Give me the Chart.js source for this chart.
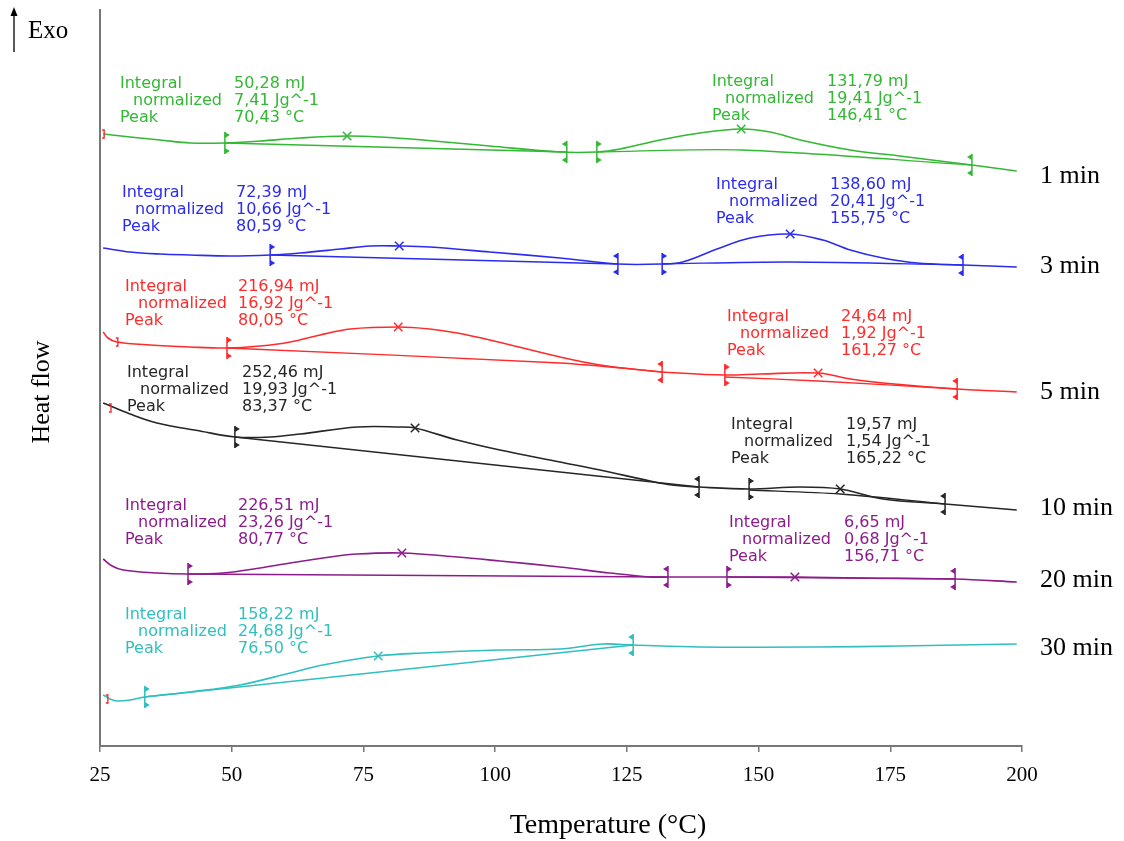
<!DOCTYPE html>
<html><head><meta charset="utf-8">
<script src="https://cdn.jsdelivr.net/npm/chart.js@4.4.1/dist/chart.umd.min.js"></script>
<style>html,body{margin:0;padding:0;background:#fff}#wrap{width:1124px;height:841px;position:relative}</style>
</head><body><div id="wrap"><canvas id="c" width="1124" height="841"></canvas></div>
<script>
// ---------- DATA (Temperature °C, Heat flow a.u.) ----------
const xTicks = [25, 50, 75, 100, 125, 150, 175, 200];
const seriesNames = ['1 min', '3 min', '5 min', '10 min', '20 min', '30 min'];

const curve1 = [[25.6,61.2],[30.7,60.9],[36.4,60.6],[42.1,60.3],[48.7,60.3],[55.4,60.5],[63.0,60.8],[71.9,61.0],[78.1,60.9],[86.3,60.6],[99.0,60.0],[112.3,59.4],[119.3,59.4],[123.7,59.7],[131.3,60.6],[138.9,61.3],[146.7,61.7],[152.2,61.4],[157.9,60.6],[167.4,59.6],[176.8,59.0],[190.5,58.1],[199.0,57.5]];
const base1 = [[[48.7,60.3],[113.6,59.4]], [[119.3,59.4],[146.7,59.6],[190.5,58.1]]];
const peaks1 = [[71.9,61.0],[146.7,61.7]];
const limits1 = [[48.7,60.3],[113.6,59.4],[119.3,59.4],[190.5,58.1]];

const curve3 = [[25.6,49.8],[30.7,49.4],[36.4,49.2],[42.1,49.1],[49.7,49.0],[57.3,49.1],[63.0,49.3],[70.6,49.7],[76.2,50.0],[81.8,50.0],[87.6,49.9],[99.0,49.4],[112.3,48.8],[123.3,48.2],[131.7,48.2],[135.6,48.4],[142.1,49.7],[148.4,50.8],[156.0,51.2],[162.2,50.6],[167.4,49.6],[173.6,48.8],[180.1,48.3],[188.8,48.1],[199.0,47.9]];
const base3 = [[[57.3,49.1],[123.3,48.2]], [[131.7,48.2],[156.0,48.4],[188.8,48.1]]];
const peaks3 = [[81.8,50.0],[156.0,51.2]];
const limits3 = [[57.3,49.1],[123.3,48.2],[131.7,48.2],[188.8,48.1]];

const curve5 = [[25.6,41.4],[26.5,40.8],[28.2,40.4],[34.5,40.1],[42.1,39.9],[49.1,39.8],[55.4,40.0],[61.1,40.4],[66.8,41.1],[72.5,41.7],[81.6,41.9],[87.6,41.7],[92.8,41.3],[99.0,40.6],[112.3,38.9],[119.9,38.1],[129.4,37.5],[131.7,37.4],[143.6,37.1],[150.3,37.2],[161.3,37.3],[167.4,36.7],[173.6,36.3],[187.7,35.7],[199.0,35.4]];
const base5 = [[[49.1,39.8],[112.3,38.3],[131.7,37.4]], [[143.6,36.9],[161.3,36.5],[187.7,35.7]]];
const peaks5 = [[81.6,41.9],[161.3,37.3]];
const limits5 = [[49.1,39.8],[131.7,37.4],[143.6,37.1],[187.7,35.7]];

const curve10 = [[25.6,34.3],[30.7,33.2],[35.8,32.3],[44.0,31.5],[50.6,30.9],[57.3,30.9],[63.0,31.2],[73.8,31.9],[81.9,31.9],[84.8,31.8],[92.8,30.6],[100.9,29.6],[112.3,28.4],[119.9,27.6],[129.4,26.5],[133.5,26.1],[138.7,25.9],[148.2,25.7],[157.9,25.9],[165.5,25.7],[173.6,24.7],[185.4,24.2],[199.0,23.6]];
const base10 = [[[50.6,30.9],[112.3,27.4],[138.7,25.9]], [[148.2,25.6],[165.5,25.2],[185.4,24.2]]];
const peaks10 = [[84.8,31.8],[165.5,25.7]];
const limits10 = [[50.6,30.9],[138.7,25.9],[148.2,25.7],[185.4,24.2]];

const curve20 = [[25.6,18.7],[27.3,18.0],[29.4,17.6],[35.8,17.3],[41.7,17.2],[48.3,17.3],[55.4,17.8],[61.1,18.3],[68.7,18.9],[73.8,19.2],[82.3,19.3],[92.8,18.9],[100.9,18.5],[112.3,17.9],[121.8,17.3],[129.4,16.9],[132.8,16.9],[144.0,16.9],[156.9,16.9],[169.3,16.8],[187.3,16.7],[199.0,16.4]];
const base20 = [[[41.7,17.2],[132.8,16.9]], [[144.0,16.9],[187.3,16.7]]];
const peaks20 = [[82.3,19.3],[156.9,16.9]];
const limits20 = [[41.7,17.2],[132.8,16.9],[144.0,16.9],[187.3,16.7]];

const curve30 = [[25.6,5.1],[26.9,4.7],[28.2,4.5],[30.7,4.6],[33.5,4.9],[42.1,5.4],[51.6,6.1],[61.1,7.3],[67.3,8.1],[77.8,9.0],[86.3,9.3],[100.9,9.6],[112.3,9.7],[120.5,10.2],[126.2,10.1],[138.9,9.9],[161.1,9.9],[176.8,10.0],[199.0,10.2]];
const base30 = [[[33.5,4.9],[126.2,10.1]]];
const peaks30 = [[77.8,9.0]];
const limits30 = [[33.5,4.9],[126.2,10.1]];

// start-of-evaluation brackets (red)
const startMarks = [[25.6,61.2],[28.2,40.4],[26.9,33.8],[26.3,4.7]];

// Evaluation results (text)
const integralMJ = [['50,28 mJ','131,79 mJ'],['72,39 mJ','138,60 mJ'],['216,94 mJ','24,64 mJ'],['252,46 mJ','19,57 mJ'],['226,51 mJ','6,65 mJ'],['158,22 mJ']];
const normalizedJg = [['7,41 Jg^-1','19,41 Jg^-1'],['10,66 Jg^-1','20,41 Jg^-1'],['16,92 Jg^-1','1,92 Jg^-1'],['19,93 Jg^-1','1,54 Jg^-1'],['23,26 Jg^-1','0,68 Jg^-1'],['24,68 Jg^-1']];
const peakC = [['70,43 °C','146,41 °C'],['80,59 °C','155,75 °C'],['80,05 °C','161,27 °C'],['83,37 °C','165,22 °C'],['80,77 °C','156,71 °C'],['76,50 °C']];

// ---------- STYLE / LAYOUT ----------
const colors = ['#33b833','#2b2bef','#ff2b2b','#262626','#8c1c8c','#30bfbf'];
const curves = [curve1,curve3,curve5,curve10,curve20,curve30];
const bases = [base1,base3,base5,base10,base20,base30];
const peaks = [peaks1,peaks3,peaks5,peaks10,peaks20,peaks30];
const limits = [limits1,limits3,limits5,limits10,limits20,limits30];
// annotation block anchors [labelX, valueX, firstLineY]
const blockPos = [[[120,234,84],[712,827,82]],[[122,236,193],[716,830,185]],[[125,238,287],[727,841,317]],[[127,242,373],[731,846,425]],[[125,238,506],[729,844,523]],[[125,238,615]]];
const namePos = [176,266,392,508,580,648];
const serif = '"Liberation Serif", "Times New Roman", serif';

const P = a => a.map(p => ({x:p[0], y:p[1]}));
const datasets = [];
curves.forEach((c,i) => {
  datasets.push({data:P(c), borderColor:colors[i], borderWidth:1.6, pointRadius:0, tension:0.35, fill:false});
  bases[i].forEach(b => datasets.push({data:P(b), borderColor:colors[i], borderWidth:1.3, pointRadius:0, tension:0.3, fill:false}));
  datasets.push({data:P(peaks[i]), showLine:false, pointStyle:'crossRot', pointRadius:6, pointBorderWidth:1.5, borderColor:colors[i], backgroundColor:colors[i]});
});

const decor = {
  id:'decor',
  afterDatasetsDraw(chart){
    const ctx = chart.ctx, xs = chart.scales.x, ys = chart.scales.y;
    ctx.save();
    limits.forEach((L,i) => {
      L.forEach((p,k) => {
        const x = xs.getPixelForValue(p[0]), y = ys.getPixelForValue(p[1]);
        const dir = (k % 2 === 0) ? 1 : -1;
        ctx.strokeStyle = colors[i]; ctx.fillStyle = colors[i]; ctx.lineWidth = 1.5;
        ctx.beginPath(); ctx.moveTo(x, y-11); ctx.lineTo(x, y+11); ctx.stroke();
        ctx.beginPath(); ctx.moveTo(x, y-11); ctx.lineTo(x+dir*5, y-8); ctx.lineTo(x, y-5); ctx.closePath(); ctx.fill();
        ctx.beginPath(); ctx.moveTo(x, y+11); ctx.lineTo(x+dir*5, y+8); ctx.lineTo(x, y+5); ctx.closePath(); ctx.fill();
      });
    });
    ctx.strokeStyle = '#ff2020'; ctx.lineWidth = 1.3;
    startMarks.forEach(p => {
      const x = xs.getPixelForValue(p[0]), y = ys.getPixelForValue(p[1]);
      ctx.beginPath(); ctx.moveTo(x-1, y-4); ctx.lineTo(x+1, y-4); ctx.lineTo(x+1, y+4); ctx.lineTo(x-1, y+4); ctx.stroke();
    });
    ctx.restore();
  },
  afterDraw(chart){
    const ctx = chart.ctx;
    ctx.save();
    ctx.textBaseline = 'middle'; ctx.textAlign = 'left';
    ctx.font = '16px "DejaVu Sans", Verdana, sans-serif';
    blockPos.forEach((blocks,i) => {
      ctx.fillStyle = colors[i];
      blocks.forEach((b,j) => {
        const [lx, vx, y0] = b;
        ctx.fillText('Integral', lx, y0);
        ctx.fillText('normalized', lx+13, y0+17);
        ctx.fillText('Peak', lx, y0+34);
        ctx.fillText(integralMJ[i][j], vx, y0);
        ctx.fillText(normalizedJg[i][j], vx, y0+17);
        ctx.fillText(peakC[i][j], vx, y0+34);
      });
    });
    ctx.fillStyle = '#000';
    ctx.font = '26px ' + serif;
    seriesNames.forEach((n,i) => ctx.fillText(n, 1040, namePos[i]));
    // Exo arrow
    ctx.strokeStyle = '#000'; ctx.fillStyle = '#000'; ctx.lineWidth = 1.3;
    ctx.beginPath(); ctx.moveTo(14, 52); ctx.lineTo(14, 14); ctx.stroke();
    ctx.beginPath(); ctx.moveTo(10.5, 16); ctx.lineTo(14, 7); ctx.lineTo(17.5, 16); ctx.closePath(); ctx.fill();
    ctx.font = '25px ' + serif;
    ctx.fillText('Exo', 28, 31);
    // axis titles
    ctx.textAlign = 'center';
    ctx.font = '28px ' + serif;
    ctx.fillText('Temperature (°C)', 608, 826);
    ctx.save();
    ctx.translate(42, 392); ctx.rotate(-Math.PI/2);
    ctx.font = '26px ' + serif;
    ctx.fillText('Heat flow', 0, 0);
    ctx.restore();
    ctx.restore();
  }
};

new Chart(document.getElementById('c'), {
  type:'line',
  data:{datasets},
  options:{
    responsive:false, animation:false, devicePixelRatio:1,
    layout:{padding:{left:0,right:102,top:10,bottom:0}},
    plugins:{legend:{display:false}, tooltip:{enabled:false}},
    scales:{
      x:{type:'linear', min:25, max:200,
        afterBuildTicks: s => { s.ticks = xTicks.map(v => ({value:v})); },
        afterFit: s => { s.height = 95; },
        ticks:{color:'#000', font:{family:serif, size:21}, padding:11, maxRotation:0, autoSkip:false},
        grid:{display:true, drawOnChartArea:false, drawTicks:true, tickLength:6, color:'#777', lineWidth:1.5},
        border:{display:true, color:'#777', width:2}
      },
      y:{type:'linear', min:0, max:73.6,
        afterFit: s => { s.width = 100; },
        ticks:{display:false},
        grid:{display:false},
        border:{display:true, color:'#777', width:2}
      }
    }
  },
  plugins:[decor]
});
</script></body></html>
